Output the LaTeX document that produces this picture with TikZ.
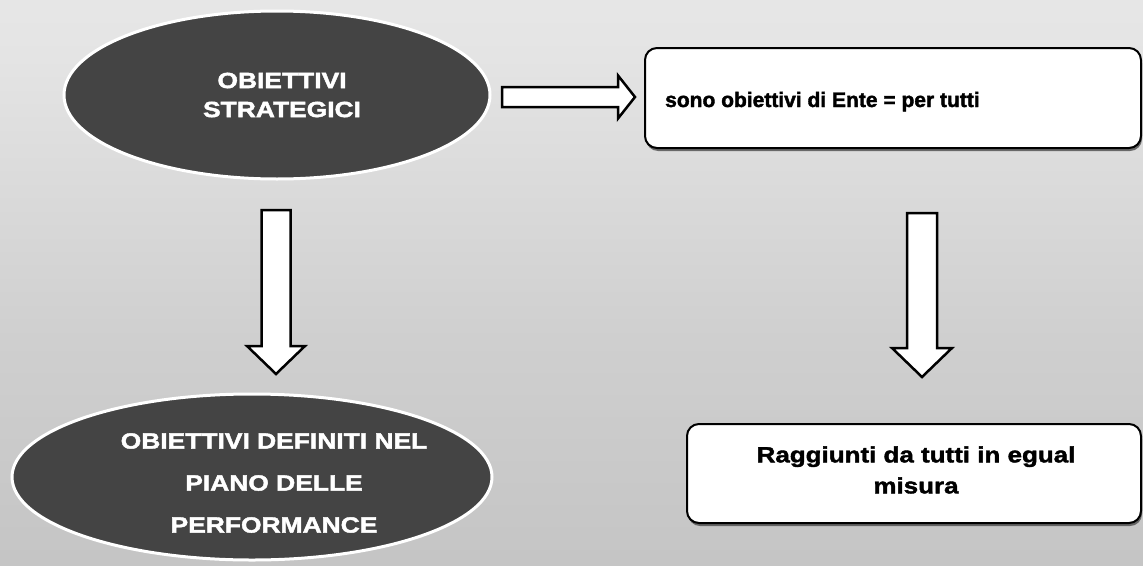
\documentclass[tikz,border=0pt]{standalone}
\usepackage{fontspec}
\setmainfont{Liberation Sans}[BoldFont={Liberation Sans Bold}]
\newfontfamily\ovalfont{Liberation Sans Bold}[FakeStretch=1.2, FakeBold=2]
\newfontfamily\widefont{Liberation Sans Bold}[FakeStretch=1.18, FakeBold=1.8]
\newfontfamily\cardfont{Liberation Sans Bold}[FakeBold=1.8]
\usetikzlibrary{shapes.geometric,shadows,calc}

\definecolor{papertop}{HTML}{F3F3F3}
\definecolor{paperhigh}{HTML}{E4E4E4}
\definecolor{papermid}{HTML}{CFCFCF}
\definecolor{paperlow}{HTML}{B8B8B8}
\definecolor{ovalgray}{HTML}{444444}
\pgfdeclareverticalshading{paper}{100bp}{color(0bp)=(paperlow); color(45bp)=(papermid); color(70bp)=(paperhigh); color(100bp)=(papertop)}

\begin{document}
\begin{tikzpicture}[x=1pt,y=-1pt,
  oval/.style={ellipse, draw=white, line width=3pt, fill=ovalgray, inner sep=0pt},
  ovaltext/.style={text=white, align=center, inner sep=0pt},
  card/.style={draw=black, line width=2pt, fill=white, rounded corners=12pt,
    inner sep=0pt, drop shadow={shadow xshift=1pt, shadow yshift=-3pt, fill=black!70, opacity=0.8}},
  cardtext/.style={text=black, inner sep=0pt},
  blockarrow/.style={draw=black, line width=2.5pt, fill=white, line join=miter}]

% paper background and page frame
\path[shading=paper] (0,0) rectangle (1143,565);
\useasboundingbox (0,0) rectangle (1143,565);

% ovals
\node[oval, minimum width=426pt, minimum height=168pt] (strat) at (277,95) {};
\node[ovaltext, font=\ovalfont\fontsize{22}{29}\selectfont] (strattext) at (282,95)
  {OBIETTIVI\\STRATEGICI};

\node[oval, minimum width=480pt, minimum height=166pt] (piano) at (252,477) {};
\node[ovaltext, font=\ovalfont\fontsize{22}{42}\selectfont] (pianotext) at (274,483)
  {OBIETTIVI DEFINITI NEL\\PIANO DELLE\\PERFORMANCE};

% rounded cards
\node[card, minimum width=496pt, minimum height=100pt] (ente) at (893,98) {};
\node[cardtext, anchor=base west, font=\cardfont\fontsize{21}{25}\selectfont] (entetext) at (665,107)
  {sono obiettivi di Ente = per tutti};

\node[card, minimum width=454pt, minimum height=99pt] (raggiunti) at (914,473.5) {};
\node[cardtext, align=center, font=\widefont\fontsize{22}{31}\selectfont] (raggiuntitext) at (916,470)
  {Raggiunti da tutti in egual\\misura};

% block arrows: start and tip points
\coordinate (r0) at (502,97);
\coordinate (r1) at (635,97);
\coordinate (d0) at (276,210);
\coordinate (d1) at (276,374);
\coordinate (e0) at (922,213);
\coordinate (e1) at (922,377);

% strategic objectives -> entity objectives
\draw[blockarrow] ($(r0)+(0,-10)$) -- ($(r1)+(-17,-10)$) -- ($(r1)+(-17,-21.5)$) -- (r1)
  -- ($(r1)+(-17,21.5)$) -- ($(r1)+(-17,10)$) -- ($(r0)+(0,10)$) -- cycle;

% strategic objectives -> performance plan objectives
\draw[blockarrow] ($(d0)+(-14.5,0)$) -- ($(d0)+(14.5,0)$) -- ($(d1)+(14.5,-28)$) -- ($(d1)+(29,-28)$)
  -- (d1) -- ($(d1)+(-29,-28)$) -- ($(d1)+(-14.5,-28)$) -- cycle;

% entity objectives -> reached by everyone
\draw[blockarrow] ($(e0)+(-15,0)$) -- ($(e0)+(15,0)$) -- ($(e1)+(15,-29)$) -- ($(e1)+(30,-29)$)
  -- (e1) -- ($(e1)+(-30,-29)$) -- ($(e1)+(-15,-29)$) -- cycle;
\end{tikzpicture}
\end{document}
